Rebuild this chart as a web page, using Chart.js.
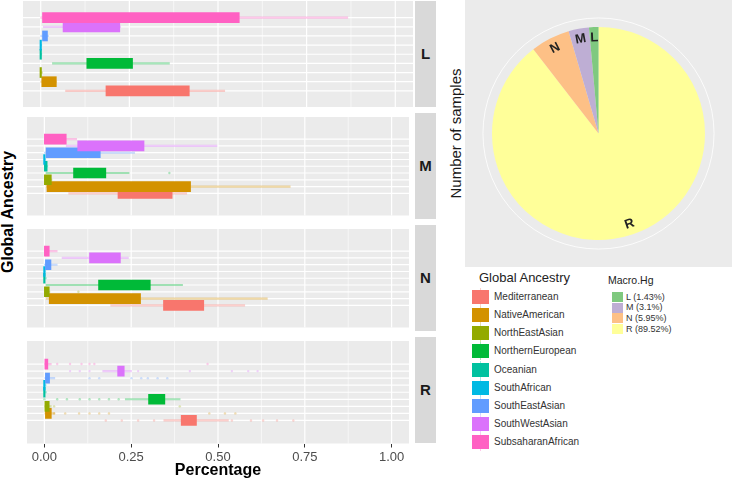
<!DOCTYPE html>
<html>
<head>
<meta charset="utf-8">
<script src="https://cdn.jsdelivr.net/npm/chart.js@4.4.1/dist/chart.umd.min.js"></script>
<style>
  body { margin: 0; background: #fff; width: 732px; height: 482px; position: relative; overflow: hidden;
         font-family: "Liberation Sans", Arial, sans-serif; }
  .abs { position: absolute; }
  .strip { position: absolute; left: 415px; width: 21px; background: #D9D9D9; color: #1A1A1A;
           font-weight: bold; font-size: 15px; display: flex; align-items: center; justify-content: center; }
  .key { position: absolute; }
  .lab { position: absolute; white-space: nowrap; color: #333; }
</style>
</head>
<body>
<div id="panels"></div>
<div class="abs" style="left:-62px;top:203px;width:140px;text-align:center;transform:rotate(-90deg);font-weight:bold;font-size:16px;color:#000;">Global Ancestry</div>

<div class="abs" style="left:465px;top:0;width:267px;height:267px;background:#EBEBEB;"><canvas id="pie"></canvas></div>
<div class="abs" style="left:385px;top:125px;width:140px;text-align:center;transform:rotate(-90deg);font-size:15px;color:#1A1A1A;">Number of samples</div>

<div class="abs" style="left:479px;top:270px;font-size:13px;color:#222;">Global Ancestry</div>
<div id="legA"></div>
<div class="abs" style="left:608px;top:274px;font-size:10.5px;color:#222;">Macro.Hg</div>
<div id="legB"></div>

<script>
// ancestry order as in the factor (bottom of each panel = first)
const ancestry = ['Mediterranean', 'NativeAmerican', 'NorthEastAsian', 'NorthernEuropean', 'Oceanian',
                  'SouthAfrican', 'SouthEastAsian', 'SouthWestAsian', 'SubsaharanAfrican'];
const ancestryColors = ['#F8766D', '#D39200', '#93AA00', '#00BA38', '#00C19F',
                        '#00B9E3', '#619CFF', '#DB72FB', '#FF61C3'];

// boxplot stats per ancestry: [lower whisker, q1, q3, upper whisker]
const boxL = [[0.07, 0.184, 0.419, 0.519], [0, 0.003, 0.044, 0.044], [0, 0, 0.003, 0.005],
              [0.033, 0.130, 0.259, 0.363], [0, 0, 0.002, 0.003], [0, 0, 0.002, 0.003],
              [0, 0.005, 0.019, 0.022], [0.0075, 0.063, 0.223, 0.225], [0, 0.005, 0.56, 0.866]];
const boxM = [[0.07, 0.212, 0.368, 0.41], [0.005, 0.0075, 0.421, 0.708], [0, 0, 0.02, 0.022],
              [0.005, 0.084, 0.177, 0.244], [0, 0, 0.008, 0.01], [0, 0, 0.003, 0.004],
              [0, 0.005, 0.161, 0.26], [0.063, 0.096, 0.287, 0.497], [0, 0, 0.063, 0.093]];
const boxN = [[0.191, 0.343, 0.459, 0.577], [0.005, 0.014, 0.277, 0.642], [0, 0, 0.014, 0.016],
              [0.005, 0.156, 0.305, 0.398], [0, 0, 0.004, 0.006], [0, 0, 0.003, 0.004],
              [0, 0.003, 0.019, 0.037], [0.051, 0.130, 0.219, 0.242], [0, 0, 0.014, 0.037]];
const boxR = [[0.344, 0.394, 0.438, 0.53], [0, 0.003, 0.02, 0.03], [0, 0, 0.014, 0.02],
              [0.233, 0.300, 0.347, 0.391], [0, 0, 0.004, 0.006], [0, 0, 0.003, 0.005],
              [0, 0.003, 0.015, 0.03], [0.168, 0.211, 0.230, 0.251], [0, 0, 0.01, 0.02]];

// outlier points per ancestry
const outL = [[], [], [], [], [], [], [], [], []];
const outM = [[], [], [], [0.36], [], [], [], [], []];
const outN = [[], [], [0.098], [], [], [], [], [], []];
const outR = [[0.177, 0.223, 0.27, 0.316, 0.54, 0.595, 0.63, 0.67, 0.717],
              [0.028, 0.06, 0.1, 0.13, 0.158, 0.186, 0.475, 0.52, 0.55],
              [0.028, 0.39],
              [0.0, 0.037, 0.065, 0.102, 0.13, 0.158, 0.186, 0.214],
              [], [],
              [0.13, 0.158, 0.251, 0.279, 0.298, 0.326, 0.354],
              [0.074, 0.102, 0.13, 0.27, 0.419, 0.54, 0.587, 0.614],
              [0.037, 0.074, 0.107, 0.13, 0.144, 0.47]];

const panelNames = ['L', 'M', 'N', 'R'];
const panelBoxes = [boxL, boxM, boxN, boxR];
const panelOutliers = [outL, outM, outN, outR];

const xTicks = [0, 0.25, 0.5, 0.75, 1.0];
const xMinor = [0.125, 0.375, 0.625, 0.875];

// pie
const macroHg = ['L', 'M', 'N', 'R'];
const macroPct = [1.43, 3.1, 5.95, 89.52];
const macroColors = ['#7FC97F', '#BEAED4', '#FDC086', '#FFFF99'];

Chart.defaults.font.family = '"Liberation Sans", Arial, sans-serif';

function alpha(hex, a) {
  const n = parseInt(hex.slice(1), 16);
  return `rgba(${n >> 16},${(n >> 8) & 255},${n & 255},${a})`;
}

const panelBg = {
  id: 'panelBg',
  beforeDatasetsDraw(chart) {
    const { ctx, chartArea: a, scales: { x, y } } = chart;
    ctx.save();
    ctx.fillStyle = '#EBEBEB';
    ctx.fillRect(a.left, a.top, a.width, a.height);
    ctx.strokeStyle = '#fff';
    ctx.lineWidth = 0.6;
    xMinor.forEach(v => {
      const p = x.getPixelForValue(v);
      ctx.beginPath(); ctx.moveTo(p, a.top); ctx.lineTo(p, a.bottom); ctx.stroke();
    });
    ctx.lineWidth = 1.2;
    xTicks.forEach(v => {
      const p = x.getPixelForValue(v);
      ctx.beginPath(); ctx.moveTo(p, a.top); ctx.lineTo(p, a.bottom); ctx.stroke();
    });
    ancestry.forEach((_, i) => {
      const p = y.getPixelForValue(i + 1);
      ctx.beginPath(); ctx.moveTo(a.left, p); ctx.lineTo(a.right, p); ctx.stroke();
    });
    ctx.restore();
  }
};

const panelTop = 0.5, panelH = 106.5, panelGap = 5.5, axisH = 39;
const holder = document.getElementById('panels');

panelNames.forEach((name, k) => {
  const last = k === panelNames.length - 1;
  const top = panelTop + k * (panelH + panelGap);
  const div = document.createElement('div');
  div.className = 'abs';
  div.style.cssText = `left:23px;top:${top}px;width:390px;height:${panelH + (last ? axisH : 0)}px;`;
  const cv = document.createElement('canvas');
  div.appendChild(cv);
  holder.appendChild(div);

  const strip = document.createElement('div');
  strip.className = 'strip';
  strip.style.top = top + 'px';
  strip.style.height = panelH + 'px';
  strip.textContent = name;
  holder.appendChild(strip);

  const box = panelBoxes[k];
  const pts = [];
  panelOutliers[k].forEach((vals, i) => vals.forEach(v => pts.push({ x: v, y: i + 1 })));

  new Chart(cv, {
    type: 'bar',
    data: {
      datasets: [
        {
          data: box.map((b, i) => ({ y: i + 1, x: [b[1], b[2]] })),
          backgroundColor: ancestryColors,
          barThickness: 10,
          minBarLength: 1.5,
          grouped: false
        },
        {
          data: box.map((b, i) => ({ y: i + 1, x: [b[0], b[3]] })),
          backgroundColor: ancestryColors.map(c => alpha(c, 0.35)),
          barThickness: 1.5,
          grouped: false
        },
        {
          type: 'scatter',
          data: pts,
          pointRadius: 1.2,
          borderWidth: 0,
          backgroundColor: ctx => alpha(ancestryColors[(ctx.raw ? ctx.raw.y : 1) - 1], 0.3)
        }
      ]
    },
    options: {
      indexAxis: 'y',
      animation: false,
      responsive: true,
      maintainAspectRatio: false,
      layout: { padding: 0 },
      plugins: { legend: { display: false }, tooltip: { enabled: false } },
      scales: {
        x: {
          type: 'linear', min: -0.05, max: 1.05, display: last,
          afterBuildTicks: s => { s.ticks = xTicks.map(v => ({ value: v })); },
          afterFit: s => { if (last) s.height = axisH; },
          grid: { drawOnChartArea: false, drawTicks: true, tickLength: 4, color: '#333', lineWidth: 1 },
          border: { display: false },
          ticks: { color: '#4D4D4D', font: { size: 13 }, padding: 2, maxRotation: 0, autoSkip: false,
                   callback: v => Number(v).toFixed(2) },
          title: { display: true, text: 'Percentage', color: '#000', font: { size: 16, weight: 'bold' },
                   padding: { top: 0, bottom: 2 } }
        },
        y: { type: 'linear', min: 0.15, max: 9.85, display: false }
      }
    },
    plugins: [panelBg]
  });
});

// pie: ggplot draws L, M, N, R counter-clockwise from the top
const pieOrder = [3, 2, 1, 0];

const pieRing = {
  id: 'pieRing',
  beforeDatasetsDraw(chart) {
    const arc = chart.getDatasetMeta(0).data[0];
    const { ctx } = chart;
    ctx.save();
    ctx.strokeStyle = 'rgba(255,255,255,0.8)';
    ctx.lineWidth = 1;
    ctx.beginPath();
    ctx.arc(arc.x, arc.y, arc.outerRadius * 1.085, 0, Math.PI * 2);
    ctx.stroke();
    ctx.restore();
  }
};

const pieLabels = {
  id: 'pieLabels',
  afterDatasetsDraw(chart) {
    const { ctx } = chart;
    const labels = chart.data.labels;
    chart.getDatasetMeta(0).data.forEach((el, i) => {
      const mid = (el.startAngle + el.endAngle) / 2;
      const r = el.outerRadius * 0.9;
      let rot = mid + Math.PI / 2;
      if (rot > Math.PI / 2 && rot < Math.PI * 1.5) rot -= Math.PI;
      ctx.save();
      ctx.translate(el.x + Math.cos(mid) * r, el.y + Math.sin(mid) * r);
      ctx.rotate(rot);
      ctx.fillStyle = '#222';
      ctx.font = 'bold 13px "Liberation Sans", Arial, sans-serif';
      ctx.textAlign = 'center';
      ctx.textBaseline = 'middle';
      ctx.fillText(labels[i], 0, 0);
      ctx.restore();
    });
  }
};

new Chart(document.getElementById('pie'), {
  type: 'pie',
  data: {
    labels: pieOrder.map(i => macroHg[i]),
    datasets: [{
      data: pieOrder.map(i => macroPct[i]),
      backgroundColor: pieOrder.map(i => macroColors[i]),
      borderWidth: 0
    }]
  },
  options: {
    animation: false,
    responsive: true,
    maintainAspectRatio: false,
    layout: { padding: 27 },
    plugins: { legend: { display: false }, tooltip: { enabled: false } }
  },
  plugins: [pieRing, pieLabels]
});

// legends
const legA = document.getElementById('legA');
ancestry.forEach((name, i) => {
  const cy = 296.7 + i * 18.2;
  legA.insertAdjacentHTML('beforeend',
    `<div class="key" style="left:480px;top:${cy - 9}px;width:1px;height:18px;background:${alpha(ancestryColors[i], 0.35)}"></div>` +
    `<div class="key" style="left:472px;top:${cy - 7}px;width:17px;height:14px;background:${ancestryColors[i]}"></div>` +
    `<div class="lab" style="left:494px;top:${cy - 6}px;font-size:10px;">${name}</div>`);
});
const legB = document.getElementById('legB');
macroHg.forEach((name, i) => {
  const cy = 297 + i * 10.7;
  legB.insertAdjacentHTML('beforeend',
    `<div class="key" style="left:612px;top:${cy - 5}px;width:11px;height:10px;background:${macroColors[i]}"></div>` +
    `<div class="lab" style="left:626px;top:${cy - 5.5}px;font-size:9px;">${name} (${macroPct[i]}%)</div>`);
});
</script>
</body>
</html>
